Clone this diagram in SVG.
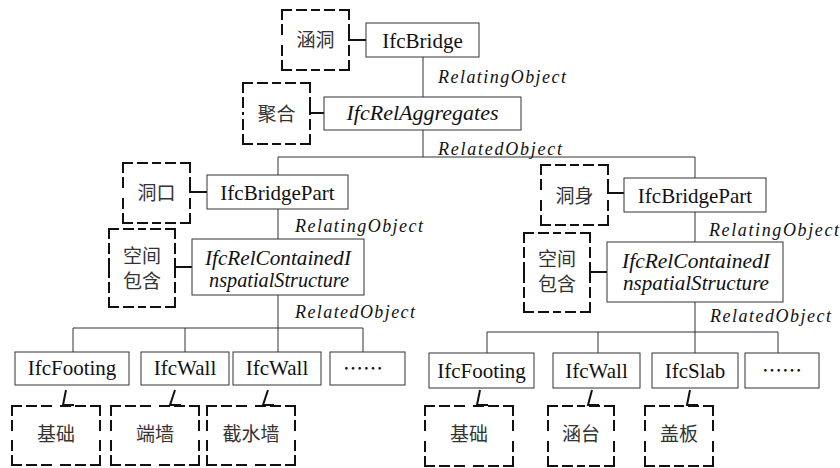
<svg xmlns="http://www.w3.org/2000/svg" width="840" height="468" viewBox="0 0 840 468">
<style>
.bg{fill:#fff}
.box{fill:#fff;stroke:#333;stroke-width:1}
.dash{fill:none;stroke:#111;stroke-width:2;stroke-dasharray:9 6;stroke-linecap:square}
.ln{fill:none;stroke:#333;stroke-width:1}
.lk{fill:none;stroke:#111;stroke-width:2}
.t{font-family:'Liberation Serif','Times New Roman',serif;font-size:21px;fill:#111;text-anchor:middle}
.ti{font-family:'Liberation Serif','Times New Roman',serif;font-size:20.5px;font-style:italic;fill:#111;text-anchor:middle}
.lb{font-family:'Liberation Serif','Times New Roman',serif;font-size:18px;font-style:italic;fill:#111}
.c{font-family:'Noto Sans CJK SC',sans-serif;font-size:19px;fill:#333;text-anchor:middle}
.d{font-family:'Noto Sans CJK SC',sans-serif;font-size:20px;fill:#111;text-anchor:middle}
</style>
<rect class="bg" x="0" y="0" width="840" height="468"/>
<g id="connectors">
<path class="ln" d="M423,57 V97 M423,130 V157 M278,157 H695 M278,157 V175 M695,157 V178"/>
<path class="ln" d="M278,209 V239 M278,295 V328 M73,328 H363 M73,328 V352 M185,328 V352 M278,328 V352 M363,328 V352"/>
<path class="ln" d="M695,212 V242 M695,302 V332 M487,332 H778 M487,332 V353 M598,332 V353 M695,332 V353 M778,332 V353"/>
<path class="lk" d="M349,32 V40 H366 M310,106 V113 H324 M190,185 V192 H207 M175,259 V267 H192 M608,186 V193 H624 M590,264 V272 H607"/>
<path class="lk" d="M66,390 L63,405 H74 M175,390 L170,405 H181 M268,390 L263,405 H274 M480,390 L477,405 H488 M592,390 L588,405 H599 M690,390 L687,405 H698"/>
<text class="lb" x="438" y="83" textLength="128" lengthAdjust="spacing">RelatingObject</text>
<text class="lb" x="438" y="155" textLength="124" lengthAdjust="spacing">RelatedObject</text>
<text class="lb" x="295" y="232" textLength="128" lengthAdjust="spacing">RelatingObject</text>
<text class="lb" x="295" y="318" textLength="120" lengthAdjust="spacing">RelatedObject</text>
<text class="lb" x="709" y="236" textLength="130" lengthAdjust="spacing">RelatingObject</text>
<text class="lb" x="710" y="322" textLength="121" lengthAdjust="spacing">RelatedObject</text>
</g>
<g id="n-bridge"><rect class="box" x="366" y="23" width="113" height="34"/><text class="t" x="422.5" y="48">IfcBridge</text></g>
<g id="n-hd"><path class="dash" d="M282,10 H315.5 M282,10 V40 M349,10 H315.5 M349,10 V40 M282,70 H315.5 M282,70 V40 M349,70 H315.5 M349,70 V40"/><text class="c" x="315.5" y="47">涵洞</text></g>
<g id="n-agg"><rect class="box" x="324" y="97" width="197" height="33"/><text class="ti" x="422.5" y="120" textLength="152" lengthAdjust="spacingAndGlyphs">IfcRelAggregates</text></g>
<g id="n-jh"><path class="dash" d="M243,83 H276.5 M243,83 V113.5 M310,83 H276.5 M310,83 V113.5 M243,144 H276.5 M243,144 V113.5 M310,144 H276.5 M310,144 V113.5"/><text class="c" x="276.5" y="120.5">聚合</text></g>
<g id="n-bp1"><rect class="box" x="207" y="175" width="141" height="34"/><text class="t" x="277.5" y="200">IfcBridgePart</text></g>
<g id="n-dk"><path class="dash" d="M123,163 H156.5 M123,163 V193 M190,163 H156.5 M190,163 V193 M123,223 H156.5 M123,223 V193 M190,223 H156.5 M190,223 V193"/><text class="c" x="156.5" y="199.5">洞口</text></g>
<g id="n-rc1"><rect class="box" x="192" y="239" width="172" height="56"/><text class="ti" x="278" y="265" textLength="146" lengthAdjust="spacingAndGlyphs">IfcRelContainedI</text><text class="ti" x="279" y="287" textLength="140" lengthAdjust="spacingAndGlyphs">nspatialStructure</text></g>
<g id="n-kj1"><path class="dash" d="M109,229 H142 M109,229 V268 M175,229 H142 M175,229 V268 M109,307 H142 M109,307 V268 M175,307 H142 M175,307 V268"/><text class="c" x="142" y="262.5">空间<tspan x="142" dy="25">包含</tspan></text></g>
<g id="n-bp2"><rect class="box" x="624" y="178" width="142" height="34"/><text class="t" x="695" y="203">IfcBridgePart</text></g>
<g id="n-ds"><path class="dash" d="M541,165 H574.5 M541,165 V195 M608,165 H574.5 M608,165 V195 M541,225 H574.5 M541,225 V195 M608,225 H574.5 M608,225 V195"/><text class="c" x="574.5" y="202.5">洞身</text></g>
<g id="n-rc2"><rect class="box" x="607" y="242" width="176" height="60"/><text class="ti" x="696" y="268" textLength="148" lengthAdjust="spacingAndGlyphs">IfcRelContainedI</text><text class="ti" x="696" y="290" textLength="146" lengthAdjust="spacingAndGlyphs">nspatialStructure</text></g>
<g id="n-kj2"><path class="dash" d="M524,233 H557 M524,233 V272.5 M590,233 H557 M590,233 V272.5 M524,312 H557 M524,312 V272.5 M590,312 H557 M590,312 V272.5"/><text class="c" x="557" y="265.5">空间<tspan x="557" dy="25">包含</tspan></text></g>
<g id="n-f1"><rect class="box" x="15" y="352" width="114" height="33"/><text class="t" x="72" y="375">IfcFooting</text></g>
<g id="n-w1"><rect class="box" x="141" y="352" width="88" height="33"/><text class="t" x="185" y="375">IfcWall</text></g>
<g id="n-w2"><rect class="box" x="233" y="352" width="88" height="33"/><text class="t" x="277" y="375">IfcWall</text></g>
<g id="n-e1"><rect class="box" x="330" y="352" width="75" height="33"/><text class="d" x="363" y="376">……</text></g>
<g id="n-jc1"><path class="dash" d="M12,406 H56 M12,406 V435.5 M100,406 H56 M100,406 V435.5 M12,465 H56 M12,465 V435.5 M100,465 H56 M100,465 V435.5"/><text class="c" x="56" y="441">基础</text></g>
<g id="n-dq"><path class="dash" d="M111,406 H155 M111,406 V435.5 M199,406 H155 M199,406 V435.5 M111,465 H155 M111,465 V435.5 M199,465 H155 M199,465 V435.5"/><text class="c" x="155" y="441">端墙</text></g>
<g id="n-jsq"><path class="dash" d="M207,406 H251 M207,406 V435.5 M295,406 H251 M295,406 V435.5 M207,465 H251 M207,465 V435.5 M295,465 H251 M295,465 V435.5"/><text class="c" x="251" y="441">截水墙</text></g>
<g id="n-f2"><rect class="box" x="429" y="353" width="105" height="35"/><text class="t" x="481.5" y="378">IfcFooting</text></g>
<g id="n-w3"><rect class="box" x="553" y="353" width="87" height="35"/><text class="t" x="596.5" y="378">IfcWall</text></g>
<g id="n-s1"><rect class="box" x="652" y="353" width="86" height="35"/><text class="t" x="695" y="378">IfcSlab</text></g>
<g id="n-e2"><rect class="box" x="745" y="353" width="74" height="35"/><text class="d" x="782" y="378">……</text></g>
<g id="n-jc2"><path class="dash" d="M425,406 H469 M425,406 V436 M513,406 H469 M513,406 V436 M425,466 H469 M425,466 V436 M513,466 H469 M513,466 V436"/><text class="c" x="469" y="441">基础</text></g>
<g id="n-ht"><path class="dash" d="M548,406 H581 M548,406 V436 M614,406 H581 M614,406 V436 M548,466 H581 M548,466 V436 M614,466 H581 M614,466 V436"/><text class="c" x="581" y="441">涵台</text></g>
<g id="n-gb"><path class="dash" d="M645,406 H679 M645,406 V436 M713,406 H679 M713,406 V436 M645,466 H679 M645,466 V436 M713,466 H679 M713,466 V436"/><text class="c" x="679" y="441">盖板</text></g>
</svg>
